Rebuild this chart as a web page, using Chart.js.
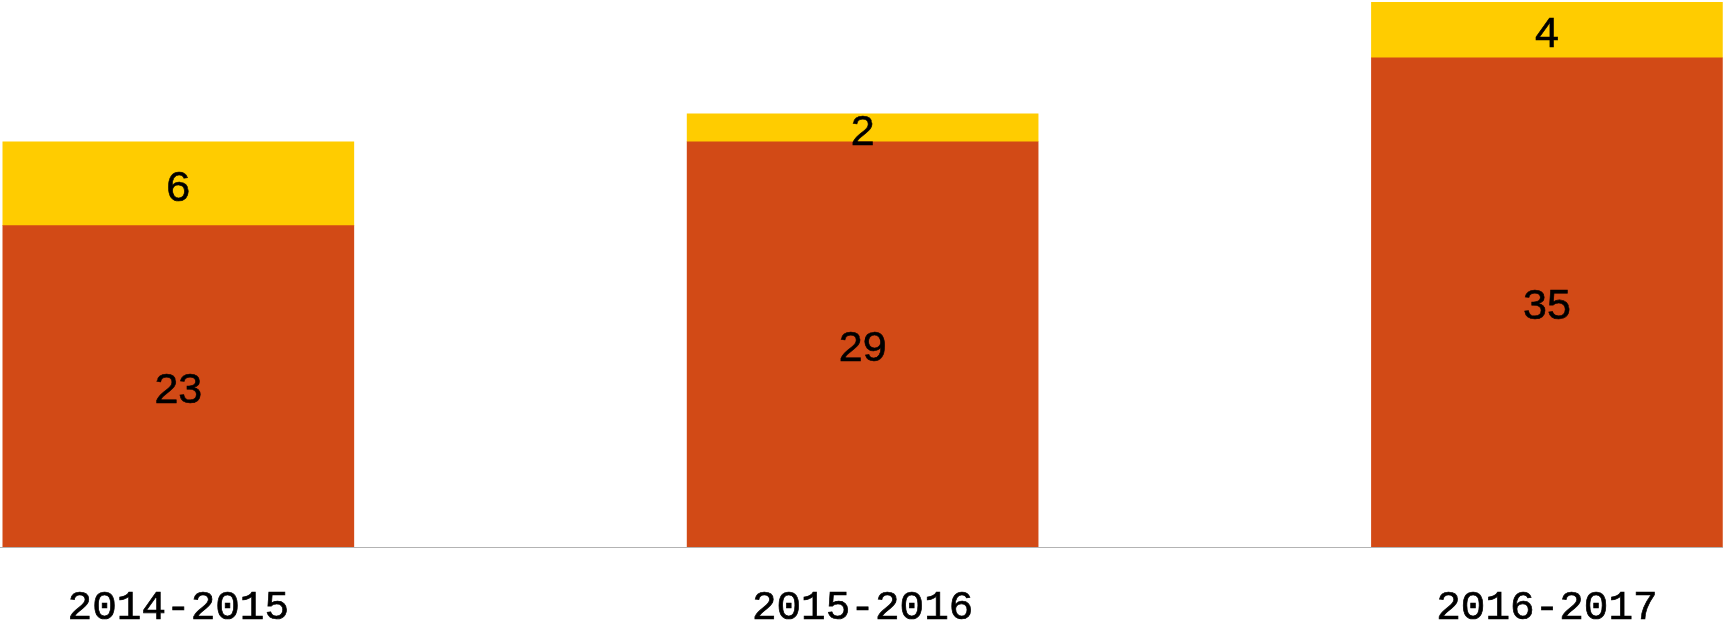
<!DOCTYPE html>
<html>
<head>
<meta charset="utf-8">
<script src="https://cdn.jsdelivr.net/npm/chart.js@4/dist/chart.umd.min.js"></script>
<style>
  html, body { margin: 0; padding: 0; background: #ffffff; }
  #wrap { width: 1723px; height: 630px; position: relative; }
</style>
</head>
<body>
<div id="wrap"><canvas id="chart"></canvas></div>
<script>
// School years shown along the bottom axis
const seasons = ['2014-2015', '2015-2016', '2016-2017'];
// Lower (orange) and upper (yellow) stacked segments
const lowerValues = [23, 29, 35];
const upperValues = [6, 2, 4];

const orange = '#d24a16';
const yellow = '#ffcc00';

const toPoints = (vals) => vals.map((v, i) => ({ x: i, y: v }));

// Writes each segment's value in the middle of its bar segment
const segmentLabels = {
  id: 'segmentLabels',
  afterDatasetsDraw(chart) {
    const ctx = chart.ctx;
    ctx.save();
    ctx.fillStyle = '#000000';
    ctx.strokeStyle = '#000000';
    ctx.lineWidth = 0.6;
    ctx.font = '43px "Liberation Sans", Arial, sans-serif';
    ctx.textAlign = 'center';
    ctx.textBaseline = 'middle';
    chart.data.datasets.forEach((ds, di) => {
      const meta = chart.getDatasetMeta(di);
      meta.data.forEach((bar, i) => {
        const p = bar.getProps(['x', 'y', 'base'], true);
        const cy = (p.y + p.base) / 2 + 5;
        const txt = String(ds.data[i].y);
        ctx.strokeText(txt, p.x, cy);
        ctx.fillText(txt, p.x, cy);
      });
    });
    ctx.restore();
  }
};

new Chart(document.getElementById('chart'), {
  type: 'bar',
  data: {
    datasets: [
      { label: 'lower', data: toPoints(lowerValues), backgroundColor: orange, barThickness: 351 },
      { label: 'upper', data: toPoints(upperValues), backgroundColor: yellow, barThickness: 351 }
    ]
  },
  options: {
    responsive: true,
    maintainAspectRatio: false,
    animation: false,
    layout: { padding: { top: 2, bottom: 1, left: 0, right: 0 } },
    plugins: {
      legend: { display: false },
      tooltip: { enabled: false }
    },
    scales: {
      x: {
        type: 'linear',
        stacked: true,
        offset: false,
        min: -0.2606,
        max: 2.2573,
        afterBuildTicks(axis) {
          axis.ticks = seasons.map((_, i) => ({ value: i }));
        },
        afterFit(axis) {
          axis.height = 82;
        },
        grid: { display: false },
        border: { display: true, color: '#b3b3b3', width: 1 },
        ticks: {
          padding: 29,
          color: '#000000',
          textStrokeColor: '#000000',
          textStrokeWidth: 0.7,
          maxRotation: 0,
          autoSkip: false,
          font: { family: '"Liberation Mono", "Courier New", monospace', size: 41 },
          callback: (v) => seasons[v]
        }
      },
      y: {
        stacked: true,
        min: 0,
        max: 39,
        display: false
      }
    }
  },
  plugins: [segmentLabels]
});
</script>
</body>
</html>
